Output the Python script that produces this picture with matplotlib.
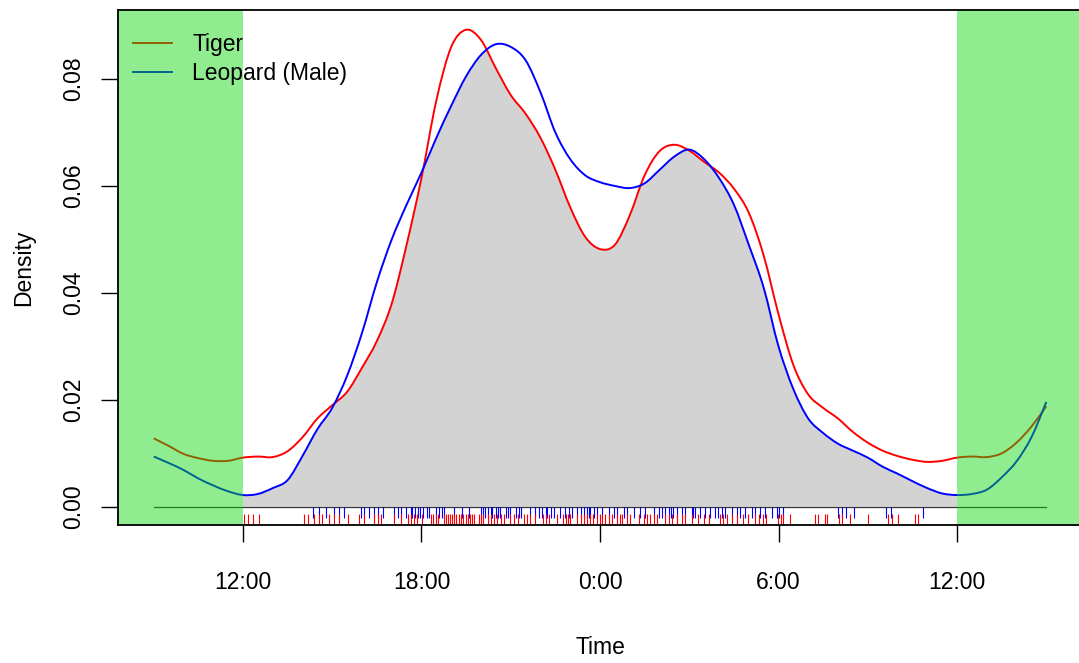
import matplotlib
matplotlib.use("Agg")
import matplotlib.pyplot as plt
from matplotlib.lines import Line2D
from matplotlib.path import Path
from matplotlib.patches import PathPatch
import numpy as np

# ---------------- data ----------------
hours = [9.0 + 0.5 * i for i in range(61)]  # 9:00 .. 15:00 next day

tiger_density = [
    0.0128, 0.0114, 0.0099, 0.0091, 0.0086, 0.0086, 0.0092, 0.0094, 0.0093, 0.0104,
    0.0130, 0.0165, 0.0190, 0.0215, 0.0260, 0.0310, 0.0380, 0.0490, 0.0615, 0.0760,
    0.0860, 0.0892, 0.0873, 0.0820, 0.0770, 0.0735, 0.0690, 0.0630, 0.0560, 0.0505,
    0.0482, 0.0490, 0.0545, 0.0620, 0.0665, 0.0677, 0.0666, 0.0645, 0.0625, 0.0595,
    0.0550, 0.0470, 0.0360, 0.0265, 0.0210, 0.0185, 0.0165, 0.0140, 0.0120, 0.0105,
    0.0095, 0.0088, 0.0084, 0.0086, 0.0092, 0.0094, 0.0093, 0.0100, 0.0120, 0.0150,
    0.0188,
]

leopard_density = [
    0.0094, 0.0082, 0.0069, 0.0053, 0.0040, 0.0029, 0.0022, 0.0024, 0.0035, 0.0050,
    0.0095, 0.0145, 0.0185, 0.0245, 0.0325, 0.0420, 0.0500, 0.0565, 0.0625, 0.0690,
    0.0750, 0.0805, 0.0845, 0.0865, 0.0860, 0.0835, 0.0775, 0.0700, 0.0650, 0.0620,
    0.0607, 0.0600, 0.0596, 0.0605, 0.0630, 0.0655, 0.0668, 0.0650, 0.0615, 0.0565,
    0.0490, 0.0410, 0.0300, 0.0220, 0.0165, 0.0138, 0.0118, 0.0105, 0.0092, 0.0075,
    0.0062, 0.0048, 0.0035, 0.0025, 0.0022, 0.0024, 0.0032, 0.0055, 0.0085, 0.0130,
    0.0196,
]

tiger_records = [
    12.03, 12.17, 12.34, 12.54, 14.04, 14.17, 14.39, 14.56, 14.67, 14.89, 15.05,
    15.22, 15.52, 15.90, 16.06, 16.40, 16.53, 16.63, 17.07, 17.30, 17.54, 17.66,
    17.75, 17.85, 18.03, 18.31, 18.40, 18.48, 18.55, 18.75, 18.82, 18.88, 18.95,
    19.02, 19.10, 19.17, 19.25, 19.33, 19.40, 19.48, 19.55, 19.62, 19.70, 19.76,
    19.93, 20.00, 20.06, 20.22, 20.33, 20.45, 20.55, 20.66, 20.76, 20.99, 21.10,
    21.23, 21.43, 21.55, 21.66, 21.83, 22.07, 22.17, 22.27, 22.57, 22.74, 22.85,
    22.93, 23.00, 23.24, 23.35, 23.46, 23.57, 23.68, 23.75, 23.91, 24.00, 24.08,
    24.18, 24.30, 24.42, 24.58, 24.67, 24.75, 24.90, 25.02, 25.30, 25.47, 25.58,
    25.69, 25.80, 25.92, 26.19, 26.31, 26.42, 26.59, 26.76, 26.87, 27.09, 27.31,
    27.48, 27.65, 28.04, 28.15, 28.27, 28.43, 28.60, 28.82, 28.99, 29.21, 29.33,
    29.48, 29.58, 29.99, 30.09, 30.15, 30.39, 31.23, 31.33, 31.56, 31.63, 32.03,
    32.13, 32.40, 33.00, 33.68, 33.81, 34.01, 34.58, 34.68,
]

leopard_records = [
    14.34, 14.56, 14.79, 15.05, 15.22, 15.39, 15.96, 16.06, 16.23, 16.40, 16.53,
    16.70, 17.07, 17.20, 17.30, 17.47, 17.64, 17.69, 17.77, 17.88, 17.95, 18.04,
    18.20, 18.24, 18.48, 18.59, 18.70, 18.76, 19.09, 19.37, 19.60, 19.99, 20.08,
    20.15, 20.23, 20.32, 20.38, 20.49, 20.57, 20.63, 20.83, 20.90, 20.99, 21.19,
    21.27, 21.33, 21.66, 21.83, 21.94, 22.06, 22.17, 22.22, 22.34, 22.45, 22.67,
    22.81, 22.95, 23.06, 23.23, 23.37, 23.45, 23.57, 23.62, 23.68, 23.79, 23.90,
    24.07, 24.29, 24.46, 24.57, 24.80, 24.91, 25.13, 25.36, 25.52, 25.80, 25.97,
    26.08, 26.19, 26.31, 26.40, 26.47, 26.59, 26.76, 26.87, 27.09, 27.14, 27.20,
    27.37, 27.54, 27.70, 27.87, 27.98, 28.10, 28.21, 28.43, 28.60, 28.71, 28.88,
    29.10, 29.21, 29.38, 29.55, 29.78, 29.94, 30.03, 30.14, 32.01, 32.12, 32.27,
    32.54, 33.61, 33.77, 34.87,
]

tick_hours = [12, 18, 24, 30, 36]
tick_labels = ["12:00", "18:00", "0:00", "6:00", "12:00"]
ytick_values = [0.00, 0.02, 0.04, 0.06, 0.08]
ytick_labels = ["0.00", "0.02", "0.04", "0.06", "0.08"]
night_spans = [(7.8, 12.0), (36.0, 40.2)]
series_names = ["Tiger", "Leopard (Male)"]

# ---------------- helpers ----------------
def smooth_path(xs, ys, i0, i1, close_to_zero=False):
    """Catmull-Rom curve through the read points, expressed as cubic Bezier segments."""
    n = len(xs)
    P = np.column_stack([xs, ys])
    verts = [tuple(P[i0])]
    codes = [Path.MOVETO]
    for i in range(i0, i1):
        p0 = P[max(i - 1, 0)]
        p1 = P[i]
        p2 = P[i + 1]
        p3 = P[min(i + 2, n - 1)]
        c1 = p1 + (p2 - p0) / 6.0
        c2 = p2 - (p3 - p1) / 6.0
        verts += [tuple(c1), tuple(c2), tuple(p2)]
        codes += [Path.CURVE4] * 3
    if close_to_zero:
        verts += [(xs[i1], 0.0), (xs[i0], 0.0), (xs[i0], 0.0)]
        codes += [Path.LINETO, Path.LINETO, Path.CLOSEPOLY]
    return Path(verts, codes)

# ---------------- styling ----------------
plt.rcParams["font.family"] = ["Liberation Sans", "DejaVu Sans"]
FS = 16.5
W, H = 1079, 663
fig = plt.figure(figsize=(W / 100, H / 100), dpi=100)
ax = fig.add_axes([118 / W, (H - 525) / H, (1082 - 118) / W, (525 - 10) / H])

x = np.array(hours)
t = np.array(tiger_density)
l = np.array(leopard_density)

RED = "#ff0000"
BLUE = "#0000ff"
GREEN = (8 / 255, 217 / 255, 8 / 255)
A = 0.45

def blend(rgb):
    return tuple(c * (1 - A) + g * A for c, g in zip(rgb, GREEN))

i12 = hours.index(12.0)
i36 = hours.index(36.0)

# overlap area = region under both curves (between the two noons)
under_l = PathPatch(smooth_path(x, l, i12, i36, True), transform=ax.transData,
                    facecolor="none", edgecolor="none")
ax.add_patch(under_l)
under_t = PathPatch(smooth_path(x, t, i12, i36, True), transform=ax.transData,
                    facecolor="#d3d3d3", edgecolor="none", zorder=1)
ax.add_patch(under_t)
under_t.set_clip_path(under_l)

# baseline
ax.plot([x[0], x[-1]], [0, 0], color="#333333", lw=0.9, zorder=2)

# rugs
ax.vlines(leopard_records, -0.00205, 0, color=BLUE, lw=0.8, zorder=2)
ax.vlines(tiger_records, -0.0034, -0.0013, color=RED, lw=0.8, zorder=2)

# density curves (smooth through read points)
ax.add_patch(PathPatch(smooth_path(x, t, 0, len(x) - 1), facecolor="none",
                       edgecolor=RED, lw=1.4, zorder=3, label=series_names[0]))
ax.add_patch(PathPatch(smooth_path(x, l, 0, len(x) - 1), facecolor="none",
                       edgecolor=BLUE, lw=1.4, zorder=3, label=series_names[1]))

# night shading (semi-transparent overlay)
for a, b in night_spans:
    ax.axvspan(a, b, color=GREEN, alpha=A, lw=0, zorder=4)

ax.set_xlim(7.8, 40.2)
ax.set_ylim(-0.0034, 0.0929)

ax.set_xticks(tick_hours)
ax.set_xticklabels(tick_labels, fontsize=FS)
ax.set_yticks(ytick_values)
ax.set_yticklabels(ytick_labels, fontsize=FS, rotation=90, va="center")
ax.tick_params(axis="x", length=12, width=1, pad=21)
ax.tick_params(axis="y", length=12, width=1, pad=12)

for s in ax.spines.values():
    s.set_linewidth(1.3)
    s.set_zorder(10)

ax.set_xlabel("Time", fontsize=FS, labelpad=30)
ax.set_ylabel("Density", fontsize=FS, labelpad=19)

handles = [Line2D([], [], color=blend((1, 0, 0)), lw=1.4),
           Line2D([], [], color=blend((0, 0, 1)), lw=1.4)]
leg = ax.legend(handles, series_names, loc="upper left", frameon=False,
                fontsize=FS, handlelength=1.7, handletextpad=0.87,
                labelspacing=0.25, borderaxespad=0.15,
                bbox_to_anchor=(0.003, 0.979))
leg.set_zorder(11)

fig.savefig("out.png", dpi=100)
